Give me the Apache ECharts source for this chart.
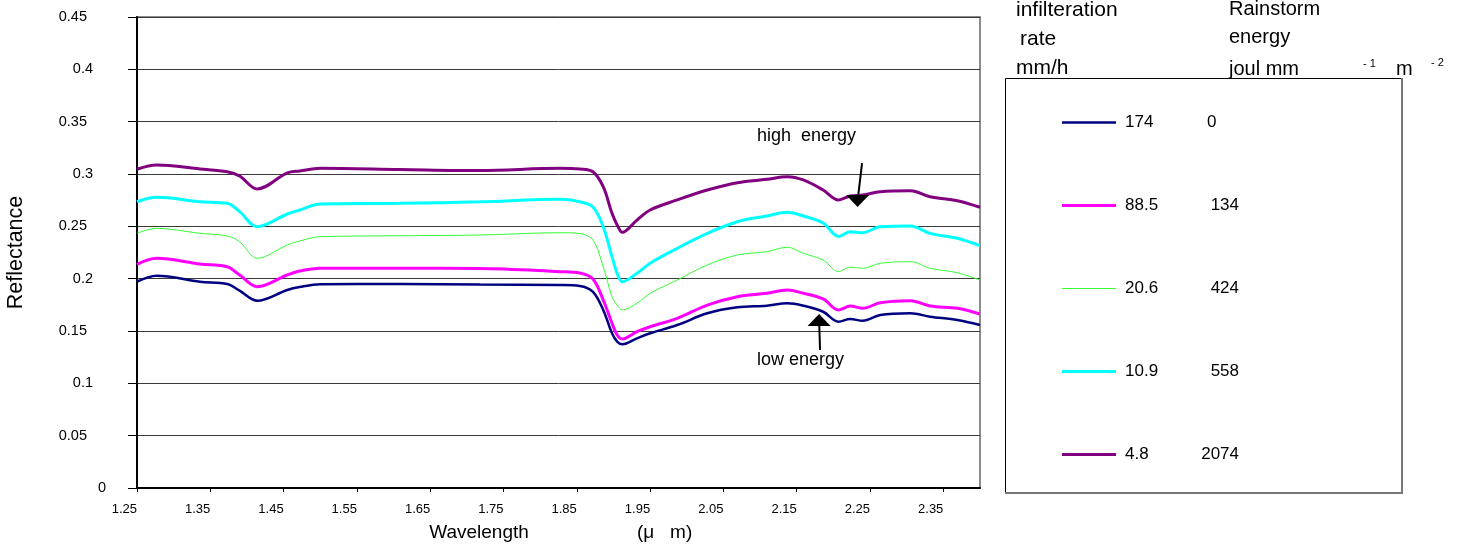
<!DOCTYPE html>
<html>
<head>
<meta charset="utf-8">
<script src="https://cdn.jsdelivr.net/npm/echarts@6/dist/echarts.min.js"></script>
<style>html,body{margin:0;padding:0;background:#fff;}#c{width:1461px;height:551px;}</style>
</head>
<body>
<div id="c"></div>
<script>
// Wavelength samples (micrometres)
const wavelength = [1.250,1.277,1.336,1.373,1.390,1.414,1.455,1.472,1.500,1.609,1.718,1.827,1.854,1.872,1.886,1.898,1.905,1.912,1.932,1.950,1.987,2.028,2.069,2.109,2.137,2.159,2.186,2.207,2.223,2.240,2.264,2.305,2.332,2.369,2.400];
// Reflectance per infiltration rate (mm/h)
const rate174  = [0.1971,0.2028,0.1971,0.1949,0.1885,0.1789,0.1892,0.1920,0.1946,0.1949,0.1944,0.1939,0.1930,0.1873,0.1701,0.1478,0.1398,0.1373,0.1430,0.1478,0.1557,0.1669,0.1726,0.1742,0.1765,0.1742,0.1684,0.1589,0.1615,0.1598,0.1653,0.1669,0.1637,0.1605,0.1557];
const rate88_5 = [0.2137,0.2195,0.2140,0.2114,0.2035,0.1923,0.2035,0.2073,0.2099,0.2099,0.2097,0.2067,0.2054,0.1997,0.1796,0.1574,0.1462,0.1424,0.1493,0.1541,0.1621,0.1748,0.1828,0.1860,0.1892,0.1860,0.1806,0.1701,0.1739,0.1717,0.1770,0.1789,0.1739,0.1717,0.1662];
const rate20_6 = [0.2433,0.2481,0.2433,0.2408,0.2353,0.2195,0.2322,0.2360,0.2401,0.2410,0.2417,0.2439,0.2431,0.2369,0.2114,0.1828,0.1748,0.1701,0.1765,0.1860,0.1987,0.2131,0.2226,0.2258,0.2300,0.2242,0.2178,0.2067,0.2111,0.2099,0.2147,0.2162,0.2099,0.2057,0.1987];
const rate10_9 = [0.2735,0.2777,0.2735,0.2720,0.2640,0.2496,0.2618,0.2656,0.2713,0.2720,0.2735,0.2758,0.2735,0.2685,0.2496,0.2210,0.2051,0.1971,0.2051,0.2147,0.2290,0.2433,0.2544,0.2599,0.2634,0.2599,0.2532,0.2403,0.2449,0.2439,0.2496,0.2503,0.2433,0.2386,0.2315];
const rate4_8  = [0.3045,0.3086,0.3048,0.3022,0.2981,0.2857,0.3010,0.3029,0.3054,0.3043,0.3033,0.3054,0.3048,0.3022,0.2879,0.2624,0.2513,0.2443,0.2560,0.2656,0.2752,0.2847,0.2917,0.2949,0.2974,0.2943,0.2847,0.2752,0.2790,0.2799,0.2831,0.2840,0.2783,0.2745,0.2682];

const seriesNames = ['174','88.5','20.6','10.9','4.8'];
const energyLabels = ['0','134','424','558','2074'];
const seriesColors = ['#000080','#FF00FF','#33FF33','#00FFFF','#800080'];
const seriesWidths = [2.5,3,1,3,3];
const seriesValues = [rate174, rate88_5, rate20_6, rate10_9, rate4_8];

// Annotation arrows: shaft [start, end] and head centre, in data coordinates
const highArrowShaft = [[2.2391,0.3105],[2.2333,0.2760]];
const highArrowHead  = [2.2330,0.2742];
const lowArrowShaft  = [[2.1818,0.1318],[2.1806,0.1585]];
const lowArrowHead   = [2.1805,0.1605];

const FONT = '"Liberation Sans", Arial, sans-serif';
const chart = echarts.init(document.getElementById('c'), null, {renderer:'canvas'});

function pairs(vals){ return wavelength.map((w,i)=>[w, vals[i]]); }

const series = seriesNames.map((n,i)=>({
  name: n, type:'line', data: pairs(seriesValues[i]),
  showSymbol:false, symbol:'none', smooth:0.35,
  lineStyle:{color:seriesColors[i], width:seriesWidths[i]},
  itemStyle:{color:seriesColors[i]},
  emphasis:{disabled:true}, z: 3
}));

// arrow shafts
series.push({
  name:'highArrow', type:'line', data:highArrowShaft, showSymbol:false, symbol:'none',
  lineStyle:{color:'#000', width:2}, itemStyle:{color:'#000'}, emphasis:{disabled:true}, silent:true, z:5
});
series.push({
  name:'lowArrow', type:'line', data:lowArrowShaft, showSymbol:false, symbol:'none',
  lineStyle:{color:'#000', width:2}, itemStyle:{color:'#000'}, emphasis:{disabled:true}, silent:true, z:5
});
// arrow heads
series.push({
  name:'arrowHeads', type:'scatter', symbol:'triangle', symbolSize:[23,12],
  data:[{value:highArrowHead, symbolRotate:180},{value:lowArrowHead, symbolRotate:0}],
  itemStyle:{color:'#000', opacity:1}, emphasis:{disabled:true}, silent:true, z:6
});

function yLabel(v){
  const s = String(+v.toFixed(2));
  if (s === '0') return '{z|0}';
  if (s.length === 3) return '{o|' + s + '}';
  return '{t|' + s + '}';
}
// legend line icon: invisible 14px-tall frame with a centred bar of the series' width
function legendIcon(w){
  const top = (14 - w) / 2;
  return 'path://M0,0L54,0Z M0,14L54,14Z M0,' + top + 'h54v' + w + 'h-54Z';
}

const option = {
  animation:false,
  backgroundColor:'#fff',
  textStyle:{fontFamily:FONT},
  grid:{left:137, top:17, right:481, bottom:63, show:true, borderColor:'#8c8c8c', borderWidth:2,
        backgroundColor:'transparent', containLabel:false, outerBoundsMode:'none'},
  xAxis:{
    type:'value', min:1.25, max:2.40, interval:0.1,
    name:'Wavelength', nameLocation:'middle', nameGap:35,
    nameTextStyle:{fontSize:19, color:'#000', fontFamily:FONT, padding:[0,159,0,0]},
    axisLine:{show:true, onZero:false, lineStyle:{color:'#000', width:2}},
    axisTick:{show:true, inside:false, length:4, lineStyle:{color:'#000', width:1}},
    axisLabel:{fontSize:13, color:'#000', fontFamily:FONT, margin:15, align:'right', showMaxLabel:false,
      formatter:v=>v.toFixed(2)},
    splitLine:{show:false}
  },
  yAxis:{
    type:'value', min:0, max:0.45, interval:0.05,
    name:'Reflectance', nameLocation:'middle', nameGap:110, nameRotate:90,
    nameTextStyle:{fontSize:21.5, color:'#000', fontFamily:FONT},
    axisLine:{show:true, lineStyle:{color:'#000', width:2}},
    axisTick:{show:true, inside:false, length:9, lineStyle:{color:'#000', width:1}},
    axisLabel:{color:'#000', fontFamily:FONT, margin:31, align:'right', formatter:yLabel,
      rich:{
        z:{fontSize:14.5, fontFamily:FONT, color:'#000', padding:[0,0,0,0]},
        o:{fontSize:14.5, fontFamily:FONT, color:'#000', padding:[0,13,0,0]},
        t:{fontSize:14.5, fontFamily:FONT, color:'#000', padding:[0,19,0,0]}
      }},
    splitLine:{show:true, lineStyle:{color:'#3a3a3a', width:1}}
  },
  legend:{
    orient:'vertical', left:1062, top:114, padding:0,
    itemWidth:54, itemHeight:14, itemGap:66,
    selectedMode:false,
    itemStyle:{borderWidth:0},
    data: seriesNames.map((n,i)=>({name:n, icon:legendIcon(seriesWidths[i]),
      itemStyle:{color:seriesColors[i], borderWidth:0}})),
    formatter: function(name){
      const i = seriesNames.indexOf(name);
      const e = energyLabels[i];
      return '{a|' + name + '}' + (e.length === 1 ? '{l|' + e + '}' : '{r|' + e + '}');
    },
    textStyle:{fontFamily:FONT, fontSize:17, color:'#000',
      rich:{
        a:{fontSize:17, fontFamily:FONT, color:'#000', width:82, padding:[0,0,0,4]},
        l:{fontSize:17, fontFamily:FONT, color:'#000', width:32, align:'left'},
        r:{fontSize:17, fontFamily:FONT, color:'#000', width:32, align:'right'}
      }}
  },
  graphic:[
    {type:'rect', shape:{x:1005.5, y:78.5, width:396, height:414}, style:{fill:'none', stroke:'#000', lineWidth:1}, z:1},
    {type:'line', shape:{x1:1402, y1:78, x2:1402, y2:494}, style:{stroke:'#777', lineWidth:2}, z:2},
    {type:'line', shape:{x1:1005, y1:493, x2:1403, y2:493}, style:{stroke:'#777', lineWidth:2}, z:2},
    {type:'text', left:1016, top:0, style:{text:'infilteration', fontSize:21, fontFamily:FONT, fill:'#000'}},
    {type:'text', left:1020, top:29, style:{text:'rate', fontSize:21, fontFamily:FONT, fill:'#000'}},
    {type:'text', left:1016, top:58, style:{text:'mm/h', fontSize:21, fontFamily:FONT, fill:'#000'}},
    {type:'text', left:1229, top:-1, style:{text:'Rainstorm', fontSize:20, fontFamily:FONT, fill:'#000'}},
    {type:'text', left:1229, top:27, style:{text:'energy', fontSize:20, fontFamily:FONT, fill:'#000'}},
    {type:'text', left:1229, top:59, style:{text:'joul mm', fontSize:20, fontFamily:FONT, fill:'#000'}},
    {type:'text', left:1363, top:58, style:{text:'- 1', fontSize:11, fontFamily:FONT, fill:'#000'}},
    {type:'text', left:1396, top:59, style:{text:'m', fontSize:20, fontFamily:FONT, fill:'#000'}},
    {type:'text', left:1431, top:57, style:{text:'- 2', fontSize:11, fontFamily:FONT, fill:'#000'}},
    {type:'text', left:757, top:127, style:{text:'high  energy', fontSize:18, fontFamily:FONT, fill:'#000'}},
    {type:'text', left:757, top:351, style:{text:'low energy', fontSize:18, fontFamily:FONT, fill:'#000'}},
    {type:'text', left:637, top:523, style:{text:'(μ   m)', fontSize:19, fontFamily:FONT, fill:'#000'}}
  ],
  series: series
};
chart.setOption(option);
</script>
</body>
</html>
